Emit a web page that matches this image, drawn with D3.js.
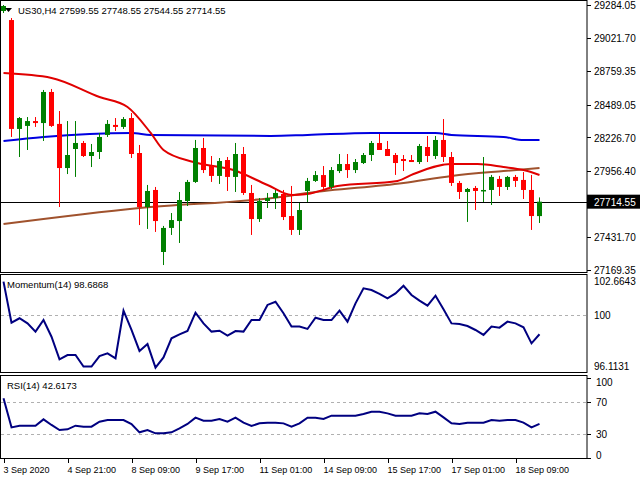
<!DOCTYPE html>
<html>
<head>
<script src="https://cdn.jsdelivr.net/npm/d3@7"></script>
<style>
  body { margin: 0; background: #fff; }
  svg { display: block; font-family: "Liberation Sans", Arial, sans-serif; font-size: 10px; }
</style>
</head>
<body>
<svg id="chart" width="640" height="480"></svg>
<script>
// OHLC, one row per H4 candle
const opens  = [29236,29164,28295,28319,28358,28342,28590,28335,27983,28135,28183,28079,28111,28247,28327,28311,28382,28103,27672,27808,27313,27505,27560,27720,27872,28143,27999,27920,28047,27912,28095,27784,27576,27720,27744,27776,27600,27489,27800,27880,27927,27832,27959,28015,27967,28023,28087,28183,28135,28087,28055,28047,28031,28151,28079,28207,28071,27864,27792,27824,27800,27808,27896,27832,27912,27888,27808,27599.55];
const highs  = [29284,29180,28390,28390,28390,28606,28614,28438,28358,28358,28199,28175,28263,28366,28382,28390,28422,28167,27848,27832,27521,27624,27792,27888,28207,28223,28079,28063,28071,28183,28151,27848,27744,27784,27808,27808,27840,27704,27904,27959,27999,27991,28095,28095,28055,28103,28199,28255,28199,28103,28087,28087,28175,28239,28239,28374,28111,27880,27824,27840,28071,27928,27920,27920,27928,27951,27928,27748.55];
const lows   = [29220,28231,28071,28127,28311,28199,28311,27672,27935,27912,28071,27991,28055,28231,28279,28295,28063,27528,27497,27473,27209,27449,27385,27680,27864,27943,27872,27856,27800,27792,27768,27449,27553,27664,27656,27568,27449,27449,27712,27872,27816,27816,27943,27904,27943,28015,28039,28127,28079,27928,27959,28031,28015,28031,28055,28031,27840,27736,27553,27648,27712,27688,27760,27808,27832,27736,27489,27544.55];
const closes = [29276,28295,28382,28358,28342,28590,28319,27983,28087,28183,28079,28111,28231,28335,28311,28374,28095,27672,27800,27560,27505,27568,27728,27872,28143,27967,27920,28039,27912,28095,27784,27576,27720,27744,27784,27592,27489,27648,27880,27927,27832,27967,28015,27967,28031,28087,28183,28127,28079,28023,28039,28031,28159,28079,28207,28071,27864,27792,27816,27800,27808,27912,27832,27912,27880,27808,27600,27714.55];

// moving averages, sampled at candle index
const maRedIdx   = [0,6,12,15.5,18.4,20,23.75,28.75,33,36,38,41.75,49.25,51.25,55.9,59.25,62.5,65,67];
const maRedVal   = [28741,28702,28550,28470,28263,28127,28031,27967,27848,27768,27776,27840,27880,27935,28015,28015,27991,27967,27928];
const maBrownIdx = [0,17,34.6,38,50,56,62.5,67];
const maBrownVal = [27536,27664,27752,27784,27864,27920,27959,27983];
const maBlueIdx  = [0,5,16,18.4,33.4,38,46,54,56,62.5,65,67];
const maBlueVal  = [28199,28231,28263,28247,28239,28247,28263,28263,28247,28231,28207,28207];

const momentum = [102.28,99.48,99.78,99.43,98.87,99.66,98.52,96.98,97.27,97.27,96.48,96.48,97.20,97.39,97.05,100.30,98.98,97.55,98.02,96.41,97.11,98.41,98.68,98.91,100.16,99.43,98.87,98.93,98.59,98.91,98.87,99.66,99.66,100.69,100.91,100.12,99.21,99.21,99.05,99.82,99.66,99.66,100.30,99.55,100.80,101.82,101.71,101.44,101.14,101.48,102.00,101.37,100.98,100.64,101.32,100.39,99.43,99.39,99.25,98.98,98.64,99.21,99.14,99.55,99.43,99.16,98.07,98.6868];
const rsi = [74.6,38.3,40.4,40.4,40.4,48.3,41.3,35.0,35.8,40.4,39.2,39.2,45.4,47.5,47.5,47.5,42.5,32.1,35.0,30.8,30.8,32.1,37.1,42.5,50.4,46.7,46.7,48.75,45.4,50.4,44.2,40.0,43.3,44.2,44.2,43.3,39.2,43.3,50.4,50.4,48.75,52.9,52.9,52.9,52.9,55.0,57.9,57.9,55.8,52.9,52.9,52.9,55.8,55.0,57.9,50.8,43.3,42.5,44.2,44.2,44.2,47.5,46.7,47.5,47.5,44.2,38.3,42.6173];

const priceTicks = [29284.05,29021.70,28759.35,28489.05,28226.70,27956.40,27431.70,27169.35];
const lastPrice = 27714.55;
const timeLabels = ["3 Sep 2020","4 Sep 21:00","8 Sep 09:00","9 Sep 17:00","11 Sep 01:00","14 Sep 09:00","15 Sep 17:00","17 Sep 01:00","18 Sep 09:00"];
const timeIdx = [0,8,16,24,32,40,48,56,64];

const svg = d3.select("#chart");
const right = 587;
const n = closes.length;
const x = d3.scaleLinear().domain([0, 1]).range([3.5, 11.5]);
const y = d3.scaleLinear().domain([27169.35, 29284.05]).range([270, 5]);
const yM = d3.scaleLinear().domain([96.1131, 102.6643]).range([372, 276]);
const yR = d3.scaleLinear().domain([0, 100]).range([458, 378]);

// frames
[[0.5, 0.5, 272], [0.5, 274.5, 98], [0.5, 375.5, 83]].forEach(([fx, fy, fh]) => {
  svg.append("rect").attr("x", fx).attr("y", fy).attr("width", right - fx).attr("height", fh)
    .attr("fill", "none").attr("stroke", "#000");
});

const main = svg.append("g");
// current price line
main.append("line").attr("x1", 1).attr("x2", right).attr("y1", Math.round(y(lastPrice)) + 0.5).attr("y2", Math.round(y(lastPrice)) + 0.5)
  .attr("stroke", "#000");

const lineIdx = d3.line().x(d => x(d[0])).y(d => y(d[1])).curve(d3.curveMonotoneX);
[[maBlueIdx, maBlueVal, "#0000e0"], [maBrownIdx, maBrownVal, "#a0522d"], [maRedIdx, maRedVal, "#e00000"]].forEach(([ix, vs, c]) => {
  main.append("path").datum(d3.zip(ix, vs)).attr("d", lineIdx)
    .attr("fill", "none").attr("stroke", c).attr("stroke-width", 2);
});

const candles = d3.range(n).map(i => ({i, o: opens[i], h: highs[i], l: lows[i], c: closes[i]}));
const cg = main.selectAll("g.c").data(candles).join("g");
cg.append("line").attr("x1", d => x(d.i)).attr("x2", d => x(d.i))
  .attr("y1", d => y(d.h)).attr("y2", d => y(d.l))
  .attr("stroke", d => d.c >= d.o ? "#007f00" : "#ff0000");
cg.append("rect").attr("x", d => x(d.i) - 2.5).attr("width", 5)
  .attr("y", d => y(Math.max(d.o, d.c))).attr("height", d => Math.max(1.5, Math.abs(y(d.o) - y(d.c))))
  .attr("fill", d => d.c >= d.o ? "#008000" : "#ff0000");

// title
svg.append("path").attr("d", "M5,8 L12,8 L8.5,12 Z").attr("fill", "#000");
svg.append("text").attr("x", 18).attr("y", 14).style("font-size", "9.5px").text("US30,H4  27599.55 27748.55 27544.55 27714.55");

// price axis
priceTicks.forEach(p => {
  svg.append("line").attr("x1", right).attr("x2", right + 4).attr("y1", Math.round(y(p)) + 0.5).attr("y2", Math.round(y(p)) + 0.5).attr("stroke", "#000");
  svg.append("text").attr("x", right + 7).attr("y", y(p) + 4).text(p.toFixed(2));
});
const ly = y(lastPrice);
svg.append("rect").attr("x", right).attr("y", ly - 7).attr("width", 53).attr("height", 14).attr("fill", "#000");
svg.append("text").attr("x", right + 7).attr("y", ly + 4).attr("fill", "#fff").text(lastPrice.toFixed(2));

// momentum
const lineM = d3.line().x((d, i) => x(i)).y(d => yM(d));
svg.append("line").attr("x1", 1).attr("x2", right).attr("y1", Math.round(yM(100)) + 0.5).attr("y2", Math.round(yM(100)) + 0.5)
  .attr("stroke", "#b0b0b0").attr("stroke-dasharray", "3,3");
svg.append("path").datum(momentum).attr("d", lineM).attr("fill", "none").attr("stroke", "#000080").attr("stroke-width", 2);
svg.append("text").attr("x", 7).attr("y", 288).style("font-size", "9.5px").text("Momentum(14) 98.6868");
[[102.6643, 285], [100, yM(100) + 4], [96.1131, 370]].forEach(([v, ty]) => {
  svg.append("text").attr("x", right + 7).attr("y", ty).text(v === 100 ? "100" : v.toFixed(4));
});

// rsi
[70, 30].forEach(v => svg.append("line").attr("x1", 1).attr("x2", right)
  .attr("y1", Math.round(yR(v)) + 0.5).attr("y2", Math.round(yR(v)) + 0.5)
  .attr("stroke", "#b0b0b0").attr("stroke-dasharray", "3,3"));
const lineR = d3.line().x((d, i) => x(i)).y(d => yR(d));
svg.append("path").datum(rsi).attr("d", lineR).attr("fill", "none").attr("stroke", "#000080").attr("stroke-width", 2);
svg.append("text").attr("x", 7).attr("y", 389).style("font-size", "9.5px").text("RSI(14) 42.6173");
[100, 70, 30, 0].forEach(v => {
  svg.append("line").attr("x1", right).attr("x2", right + 4).attr("y1", Math.round(yR(v)) + 0.5).attr("y2", Math.round(yR(v)) + 0.5).attr("stroke", "#000");
  svg.append("text").attr("x", right + 9).attr("y", yR(v) + 4 + (v === 100 ? 4 : 0) - (v === 0 ? 3 : 0)).text(v);
});

// time axis
timeIdx.forEach((ti, k) => {
  const tx = Math.round(x(ti)) + 0.5;
  svg.append("line").attr("x1", tx).attr("x2", tx).attr("y1", 459).attr("y2", 463).attr("stroke", "#000");
  svg.append("text").attr("x", tx - 1).attr("y", 473).style("font-size", "9px").text(timeLabels[k]);
});
</script>
</body>
</html>
